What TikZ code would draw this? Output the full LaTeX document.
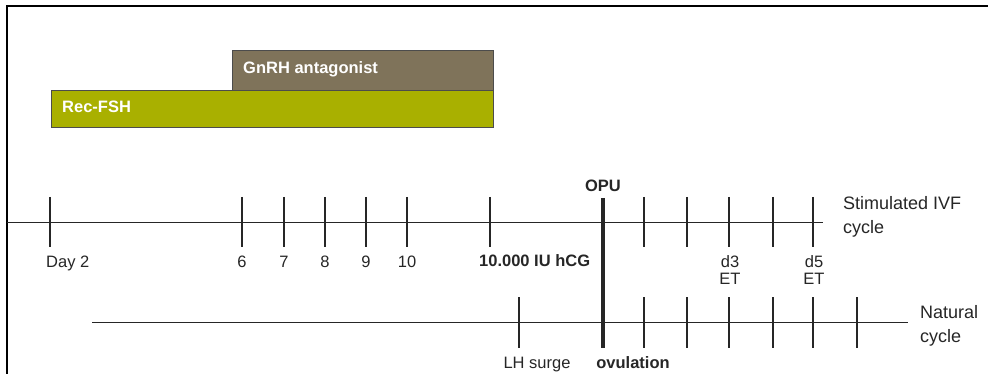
\documentclass[tikz,border=0pt]{standalone}
\usepackage{fontspec}
\setmainfont{Liberation Sans}
\usetikzlibrary{positioning}
\usetikzlibrary{calc}

\begin{document}
\begin{tikzpicture}[x=1pt, y=-1pt]
    \definecolor{antagonist}{HTML}{7F735A}
\definecolor{fsh}{HTML}{A9B000}
\colorlet{ink}{black!85}

\newcommand\stimY{223}
\newcommand\natY{322}
\newcommand\stimTop{197}
\newcommand\stimBot{247}
\newcommand\natTop{297}
\newcommand\natBot{348}

\tikzset{
    axis/.style={ink, line width=1pt},
    day tick/.style={ink, line width=1.3pt},
    heavy tick/.style={ink, line width=2.6pt},
    drug bar/.style={draw=black!70, line width=0.8pt},
    drug label/.style={
        text=white, anchor=base west, inner sep=0pt,
        font=\fontsize{16.5}{19}\selectfont\bfseries,
    },
    day label/.style={
        text=ink, anchor=base, inner sep=0pt,
        font=\fontsize{16.5}{19}\selectfont,
    },
    cycle label/.style={
        text=ink, anchor=north west, inner sep=0pt, align=left,
        font=\fontsize{18}{24}\selectfont,
    },
}

    \useasboundingbox (0,0) rectangle (988,374);
    \draw[black, line width=1.6pt] (7,374) -- (7,6) -- (988,6);

    % treatment bars
    \draw[drug bar, fill=antagonist] (232,50) rectangle (493,90);
    \draw[drug bar, fill=fsh] (51,90) rectangle (493,127);
    \node[drug label] (gnrh) at (243,74) {GnRH antagonist};
    \node[drug label] (recfsh) at (62,113) {Rec-FSH};

    % time axes
    \coordinate (stim-start) at (7,\stimY);
    \coordinate (stim-end) at (823,\stimY);
    \coordinate (nat-start) at (92,\natY);
    \coordinate (nat-end) at (908,\natY);
    \draw[axis] (stim-start) -- (stim-end);
    \draw[axis] (nat-start) -- (nat-end);

    \foreach \x in {50,242,284,325,366,407,644,687,729,773,813}
        \draw[day tick] (\x,\stimTop) -- (\x,\stimBot);
    \draw[heavy tick] (490,\stimTop) -- (490,\stimBot);

    \foreach \x in {519,644,687,729,773,813}
        \draw[day tick] (\x,\natTop) -- (\x,\natBot);
    \draw[heavy tick] (857,\natTop) -- (857,\natBot);

    \coordinate (opu-top) at (603,198);
    \coordinate (opu-bot) at (603,348);
    \draw[ink, line width=4pt] (opu-top) -- (opu-bot);

    % day labels
    \node[day label, anchor=base west] (day2) at (46,267) {Day 2};
    \foreach \x/\d in {242/6,284/7,325/8,366/9,407/10}
        \node[day label] (day\d) at (\x,267) {\d};
    \node[day label, anchor=base west, font=\fontsize{16.5}{19}\selectfont\bfseries]
        (hcg) at (479,266) {10.000 IU hCG};
    \node[day label, font=\fontsize{16.5}{19}\selectfont\bfseries]
        (opu) at (603,192) {OPU};
    \node[day label, anchor=north, align=center, font=\fontsize{16.5}{17}\selectfont]
        (d3) at (730,255) {d3\\ET};
    \node[day label, anchor=north, align=center, font=\fontsize{16.5}{17}\selectfont]
        (d5) at (814,255) {d5\\ET};
    \node[day label] (lh) at (537,368) {LH surge};
    \node[day label, font=\fontsize{16.5}{19}\selectfont\bfseries]
        (ovulation) at (633,368) {ovulation};

    % cycle names
    \node[cycle label] (stim) at (843,196) {Stimulated IVF\\cycle};
    \node[cycle label] (natural) at (920,305) {Natural\\cycle};
\end{tikzpicture}
\end{document}
